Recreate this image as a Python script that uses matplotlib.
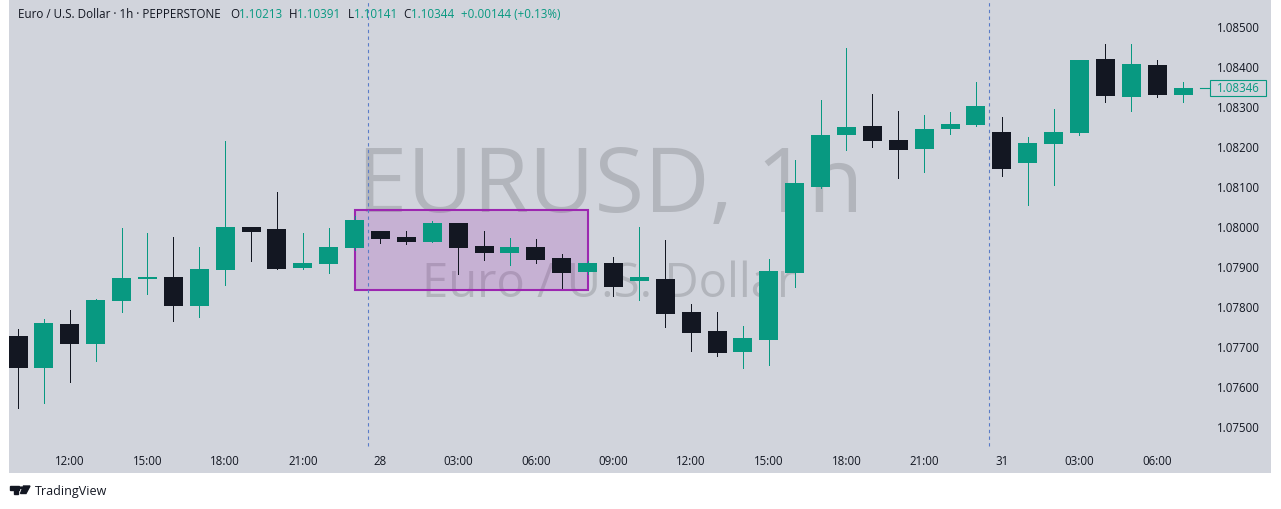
import numpy as np
import matplotlib.pyplot as plt
from matplotlib.patches import Rectangle, Polygon, Circle

plt.rcParams['font.family'] = ['Open Sans', 'DejaVu Sans']

# hourly EURUSD candles, 27th 10:00 -> 31st 07:00
opens = [1.07725, 1.07645, 1.07755, 1.07705, 1.07813, 1.07870, 1.07873, 1.07800,
         1.07890, 1.07998, 1.07993, 1.07895, 1.07905, 1.07945, 1.07988, 1.07973,
         1.07960, 1.08008, 1.07950, 1.07933, 1.07948, 1.07920, 1.07885, 1.07908,
         1.07863, 1.07868, 1.07785, 1.07738, 1.07685, 1.07715, 1.07883, 1.08098,
         1.08228, 1.08250, 1.08215, 1.08193, 1.08243, 1.08253, 1.08235, 1.08158,
         1.08205, 1.08233, 1.08418, 1.08323, 1.08403, 1.08328]
highs = [1.07743, 1.07768, 1.07790, 1.07818, 1.07995, 1.07983, 1.07973, 1.07948,
         1.08213, 1.07998, 1.08085, 1.07983, 1.07995, 1.08025, 1.07988, 1.07988,
         1.08013, 1.08008, 1.07988, 1.07970, 1.07968, 1.07930, 1.07913, 1.07923,
         1.07998, 1.07965, 1.07805, 1.07785, 1.07750, 1.07918, 1.08165, 1.08315,
         1.08445, 1.08330, 1.08288, 1.08278, 1.08285, 1.08360, 1.08273, 1.08223,
         1.08293, 1.08415, 1.08455, 1.08455, 1.08415, 1.08360]
lows = [1.07545, 1.07558, 1.07610, 1.07663, 1.07785, 1.07830, 1.07763, 1.07773,
        1.07853, 1.07913, 1.07893, 1.07893, 1.07883, 1.07940, 1.07958, 1.07955,
        1.07960, 1.07880, 1.07915, 1.07903, 1.07908, 1.07845, 1.07880, 1.07825,
        1.07815, 1.07748, 1.07688, 1.07675, 1.07645, 1.07653, 1.07848, 1.08095,
        1.08190, 1.08198, 1.08120, 1.08135, 1.08230, 1.08250, 1.08125, 1.08053,
        1.08103, 1.08228, 1.08310, 1.08288, 1.08323, 1.08310]
closes = [1.07645, 1.07758, 1.07705, 1.07815, 1.07870, 1.07870, 1.07800, 1.07893,
          1.07998, 1.07985, 1.07893, 1.07908, 1.07948, 1.08015, 1.07968, 1.07960,
          1.08008, 1.07945, 1.07933, 1.07948, 1.07915, 1.07883, 1.07908, 1.07848,
          1.07873, 1.07780, 1.07733, 1.07683, 1.07720, 1.07888, 1.08108, 1.08228,
          1.08248, 1.08213, 1.08190, 1.08243, 1.08255, 1.08300, 1.08143, 1.08208,
          1.08235, 1.08415, 1.08325, 1.08405, 1.08328, 1.08346]

time_pos = [2, 5, 8, 11, 14, 17, 20, 23, 26, 29, 32, 35, 38, 41, 44]
time_labels = ['12:00', '15:00', '18:00', '21:00', '28', '03:00', '06:00', '09:00',
               '12:00', '15:00', '18:00', '21:00', '31', '03:00', '06:00']
price_ticks = [1.075, 1.076, 1.077, 1.078, 1.079, 1.080, 1.081, 1.082, 1.083, 1.084, 1.085]
session_breaks = [13.5, 37.5]
box_start, box_end = 13, 22
box_low, box_high = 1.0784, 1.0804
last_price = 1.08346

header_parts = [('Euro / U.S. Dollar · 1h · PEPPERSTONE', 'dark', 0),
                ('O', 'dark', 6.5), ('1.10213', 'green', 0),
                ('H', 'dark', 5), ('1.10391', 'green', 0),
                ('L', 'dark', 5), ('1.10141', 'green', 0),
                ('C', 'dark', 5), ('1.10344', 'green', 0),
                ('+0.00144 (+0.13%)', 'green', 5)]

UP = '#089981'
DOWN = '#131722'
PANE = '#D1D4DC'
W, H = 1281, 510

fig = plt.figure(figsize=(W / 100, H / 100), dpi=100, facecolor='white')
ax = fig.add_axes([9 / W, (H - 474) / H, 1262 / W, 474 / H])
ax.set_facecolor(PANE)
ax.set_xlim(-0.3476, 48.397)
ax.set_ylim(1.073825, 1.085675)
for s in ax.spines.values():
    s.set_visible(False)

# watermark
ax.text(610 / W, 1 - 212 / H, 'EURUSD, 1h', transform=fig.transFigure, fontsize=65,
        color='#B2B5BC', ha='center', va='baseline', zorder=1)
ax.text(609 / W, 1 - 297 / H, 'Euro / U.S. Dollar', transform=fig.transFigure, fontsize=34,
        color='#B2B5BC', ha='center', va='baseline', zorder=1)

# candles
o = np.array(opens)
h = np.array(highs)
l = np.array(lows)
c = np.array(closes)
idx = np.arange(len(o))
cols = np.where(c >= o, UP, DOWN)
ax.vlines(idx, l, h, colors=cols, lw=0.7, antialiased=False, zorder=3)
body = np.maximum(np.abs(c - o), 0.00004)
bottom = np.minimum(o, c) - (body - np.abs(c - o)) / 2
ax.bar(idx, body, bottom=bottom, width=0.734, color=cols, linewidth=0, zorder=4)

# rectangle drawing
ax.add_patch(Rectangle((box_start, box_low), box_end - box_start, box_high - box_low,
                       facecolor='#9C27B0', alpha=0.2, edgecolor='none', zorder=2))
ax.add_patch(Rectangle((box_start, box_low), box_end - box_start, box_high - box_low,
                       facecolor='none', edgecolor='#9C27B0', lw=1.5, zorder=2.2))

# session breaks
ax.vlines(session_breaks, 1.0745, 1.085675, colors='#5A7CC8', lw=0.8,
          linestyles=(0, (3, 3)), zorder=2.5)

# axes labels inside pane
ax.set_yticks(price_ticks, ['%.5f' % p for p in price_ticks])
ax.yaxis.tick_right()
ax.tick_params(axis='y', length=0, pad=-11 * 0.72, labelsize=8.3, labelcolor='#131722')
for t in ax.get_yticklabels():
    t.set_ha('right')
ax.set_xticks(time_pos, time_labels)
ax.tick_params(axis='x', length=0, pad=-12 * 0.72, labelsize=8.3, labelcolor='#131722')
for t in ax.get_xticklabels():
    t.set_va('center')

# last price marker
ytr = ax.get_yaxis_transform()
ax.plot([(1200 - 9) / 1262, (1209 - 9) / 1262], [last_price, last_price], color=UP,
        lw=0.8, transform=ytr, clip_on=False)
ax.add_patch(Rectangle(((1210 - 9) / 1262, last_price - 0.0002), 56 / 1262, 0.0004,
                       transform=ytr, facecolor=PANE, edgecolor=UP, lw=0.8, zorder=5))
ax.text((1238 - 9) / 1262, last_price, '%.5f' % last_price, transform=ytr, color=UP,
        fontsize=8.3, ha='center', va='center', zorder=6)

# header legend
prev = None
for txt, kind, gap in header_parts:
    col = UP if kind == 'green' else DOWN
    if prev is None:
        prev = fig.text(18 / W, 1 - 15 / H, txt, fontsize=8.4, color=col, va='center')
    else:
        prev = ax.annotate(txt, xy=(1, 0.5), xycoords=prev, xytext=(gap, 0),
                           textcoords='offset points', fontsize=8.4, va='center',
                           color=col, annotation_clip=False)

# logo
def px(x, y):
    return (x / W, 1 - y / H)

fig.add_artist(Polygon([px(10, 487), px(19, 487), px(19, 490.5), px(17.5, 490.5),
                        px(17.5, 494.5), px(14, 494.5), px(14, 490.5), px(10, 490.5)],
                       closed=True, transform=fig.transFigure, color=DOWN))
fig.add_artist(Circle(px(21.3, 488.8), 1.8 / W, transform=fig.transFigure, color=DOWN))
fig.add_artist(Polygon([px(23.5, 487), px(30, 487), px(26, 494.5), px(20.5, 494.5)],
                       closed=True, transform=fig.transFigure, color=DOWN))
fig.text(35 / W, 1 - 492 / H, 'TradingView', fontsize=9, color=DOWN, va='center')

fig.savefig('out.png', dpi=100, facecolor='white')
